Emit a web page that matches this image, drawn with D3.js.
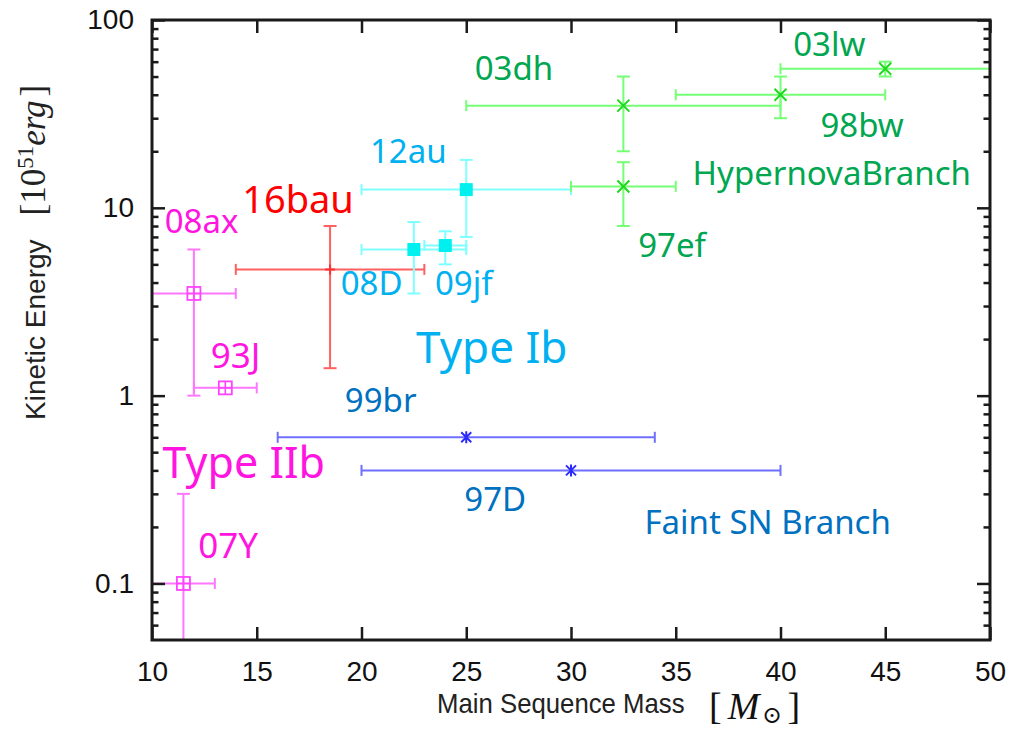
<!DOCTYPE html>
<html><head><meta charset="utf-8">
<script src="https://cdn.jsdelivr.net/npm/d3@7"></script>
<style>
html,body{margin:0;padding:0;background:#fff;}
svg{display:block;}
</style>
</head><body>
<svg id="chart" width="1031" height="734"></svg>
<script>
// ---------- data ----------
const names    = ["08ax","93J","07Y","16bau","12au","08D","09jf","03dh","97ef","98bw","03lw","99br","97D"];
const groups   = ["IIb","IIb","IIb","bau","Ib","Ib","Ib","HN","HN","HN","HN","Faint","Faint"];
const mass     = [12, 13.5, 11.5, 18.5, 25, 22.5, 24, 32.5, 32.5, 40, 45, 25, 30];
const massLo   = [9, 12, 9, 14, 20, 20, 23, 25, 30, 35, 40, 16, 20];
const massHi   = [14, 15, 13, 23, 30, 25, 25, 40, 35, 45, 55, 34, 40];
const energy   = [3.5, 1.1, 0.1, 4.7, 12.5, 6.0, 6.3, 35, 13, 40, 55, 0.6, 0.4];
const energyLo = [1.0, null, 0.01, 1.4, 7.0, 3.5, 5.0, 20, 8, 30, 50, null, null];
const energyHi = [6.0, null, 0.3, 8.0, 18, 8.4, 7.5, 50, 17.5, 50, 60, null, null];

const xTicks = [10, 15, 20, 25, 30, 35, 40, 45, 50];
const yTicks = [0.1, 1, 10, 100];
const yTickLabels = ["0.1", "1", "10", "100"];

// annotation texts anchored in data space (left edge, baseline)
const annText   = ["03dh","03lw","98bw","HypernovaBranch","97ef","12au","16bau","08ax","08D","09jf","Type Ib","93J","99br","Type IIb","97D","Faint SN Branch","07Y"];
const annGroup  = ["HN","HN","HN","HN","HN","Ib","bau","IIb","Ib","Ib","Ib","IIb","Faint","IIb","Faint","Faint","IIb"];
const annMass   = [25.5, 40.7, 42.0, 35.9, 33.3, 20.5, 14.4, 10.7, 19.1, 23.6, 22.7, 12.9, 19.3, 10.6, 25.0, 33.6, 12.3];
const annEnergy = [47.9, 64.4, 23.9, 13.25, 5.49, 17.35, 9.41, 7.36, 3.44, 3.44, 1.50, 1.41, 0.822, 0.366, 0.2445, 0.1823, 0.1358];

// ---------- styles ----------
const style = {
  HN:    {text:"#00a650", err:"#74ff74", mark:"#1fd81f", shape:"cross"},
  Ib:    {text:"#00b0f0", err:"#80ffff", mark:"#00f0f0", shape:"fsquare"},
  bau:   {text:"#ff0000", err:"#ff6060", mark:"#ff3030", shape:"plus"},
  IIb:   {text:"#ff14e0", err:"#ff77ff", mark:"#ff44ff", shape:"osquare"},
  Faint: {text:"#0070c0", err:"#6f6fff", mark:"#2a2aff", shape:"star"}
};
const annSize = {"Type Ib":44, "Type IIb":43, "16bau":38, "07Y":35, "93J":35};

const W = 1031, H = 734;
const margin = {left:152, top:20, right:41, bottom:94};
const pw = W - margin.left - margin.right;   // 838
const ph = H - margin.top - margin.bottom;   // 620

const svg = d3.select("#chart");
const x = d3.scaleLinear().domain([10, 50]).range([margin.left, margin.left + pw]);
const y = d3.scaleLog().domain([0.05, 100]).range([margin.top + ph, margin.top]);

svg.append("defs").append("clipPath").attr("id","clip")
  .append("rect").attr("x", margin.left).attr("y", margin.top).attr("width", pw).attr("height", ph);

const plot = svg.append("g").attr("clip-path","url(#clip)");

// ---------- error bars ----------
const data = names.map((n,i)=>({n, g:groups[i], m:mass[i], ml:massLo[i], mh:massHi[i], e:energy[i], el:energyLo[i], eh:energyHi[i]}));
const cap = 5.5;
const eb = plot.append("g").attr("fill","none").attr("stroke-width",2);
data.forEach(d=>{
  const s = style[d.g];
  const g = eb.append("g").attr("stroke", s.err);
  g.append("line").attr("x1", x(d.ml)).attr("x2", x(d.mh)).attr("y1", y(d.e)).attr("y2", y(d.e));
  g.append("line").attr("x1", x(d.ml)).attr("x2", x(d.ml)).attr("y1", y(d.e)-cap).attr("y2", y(d.e)+cap);
  g.append("line").attr("x1", x(d.mh)).attr("x2", x(d.mh)).attr("y1", y(d.e)-cap).attr("y2", y(d.e)+cap);
  if (d.el != null) {
    g.append("line").attr("x1", x(d.m)).attr("x2", x(d.m)).attr("y1", y(d.el)).attr("y2", y(d.eh));
    g.append("line").attr("x1", x(d.m)-6.5).attr("x2", x(d.m)+6.5).attr("y1", y(d.el)).attr("y2", y(d.el));
    g.append("line").attr("x1", x(d.m)-6.5).attr("x2", x(d.m)+6.5).attr("y1", y(d.eh)).attr("y2", y(d.eh));
  }
});

// ---------- markers ----------
const mk = plot.append("g");
data.forEach(d=>{
  const s = style[d.g];
  const cx = x(d.m), cy = y(d.e);
  const g = mk.append("g").attr("transform", `translate(${cx},${cy})`);
  if (s.shape === "fsquare") {
    g.append("rect").attr("x",-6.5).attr("y",-6.5).attr("width",13).attr("height",13).attr("fill", s.mark);
  } else if (s.shape === "osquare") {
    g.append("rect").attr("x",-6.5).attr("y",-6.5).attr("width",13).attr("height",13)
      .attr("fill","none").attr("stroke", s.mark).attr("stroke-width",1.8);
    g.append("path").attr("d","M-6.5,0H6.5M0,-6.5V6.5").attr("stroke", s.mark).attr("stroke-width",1.6);
  } else if (s.shape === "cross") {
    g.append("path").attr("d","M-6,-6L6,6M-6,6L6,-6").attr("stroke", s.mark).attr("stroke-width",2);
  } else if (s.shape === "plus") {
    g.append("path").attr("d","M-5,0H5M0,-5V5").attr("stroke", s.mark).attr("stroke-width",2);
  } else if (s.shape === "star") {
    g.append("path").attr("d","M-5,-5L5,5M-5,5L5,-5M0,-6V6").attr("stroke", s.mark).attr("stroke-width",2);
  }
});

// ---------- axes ----------
const axisColor = "#1a1a1a";
const minorVals = [];
[0.01, 0.1, 1, 10].forEach(b=>{ for (let k=2;k<=9;k++){ const v=b*k; if (v>0.05 && v<100) minorVals.push(v);} });

function styleAxis(g){
  g.select(".domain").remove();
  g.selectAll(".tick line").attr("stroke", axisColor).attr("stroke-width", 2.5);
  g.selectAll(".tick text").attr("fill","#111").attr("font-family","'Liberation Sans', Arial, sans-serif").attr("font-size", 28);
}

svg.append("g").attr("transform",`translate(${margin.left},0)`)
  .call(d3.axisLeft(y).tickValues(yTicks).tickFormat((d,i)=>yTickLabels[i]).tickSize(-13).tickPadding(18))
  .call(styleAxis);
svg.append("g").attr("transform",`translate(${margin.left},0)`)
  .call(d3.axisLeft(y).tickValues(minorVals).tickFormat("").tickSize(-6.5))
  .call(styleAxis);
svg.append("g").attr("transform",`translate(${margin.left+pw},0)`)
  .call(d3.axisRight(y).tickValues(yTicks).tickFormat("").tickSize(-13))
  .call(styleAxis);
svg.append("g").attr("transform",`translate(${margin.left+pw},0)`)
  .call(d3.axisRight(y).tickValues(minorVals).tickFormat("").tickSize(-6.5))
  .call(styleAxis);
svg.append("g").attr("transform",`translate(0,${margin.top+ph})`)
  .call(d3.axisBottom(x).tickValues(xTicks).tickFormat(d3.format("d")).tickSize(-13).tickPadding(21))
  .call(styleAxis);
svg.append("g").attr("transform",`translate(0,${margin.top})`)
  .call(d3.axisTop(x).tickValues(xTicks).tickFormat("").tickSize(-13))
  .call(styleAxis);

svg.append("rect").attr("x", margin.left).attr("y", margin.top).attr("width", pw).attr("height", ph)
  .attr("fill","none").attr("stroke", axisColor).attr("stroke-width", 3);

// ---------- annotations ----------
const ann = svg.append("g").attr("font-family","'Noto Sans', 'Open Sans', sans-serif");
annText.forEach((t,i)=>{
  const fs = annSize[t] || 33;
  ann.append("text").attr("x", x(annMass[i]) - 2).attr("y", y(annEnergy[i]))
    .attr("font-size", fs).attr("fill", style[annGroup[i]].text).text(t);
});

// ---------- axis titles ----------
svg.append("text").attr("transform","translate(437,713) scale(0.92,1)").attr("fill","#222")
  .attr("font-family","'Liberation Sans', Arial, sans-serif").attr("font-size",28).text("Main Sequence Mass");
const xb = svg.append("text").attr("x", 709).attr("y", 719).attr("fill","#111").attr("font-family","'Liberation Serif', 'DejaVu Serif', serif").attr("font-size",38);
xb.append("tspan").text("[");
xb.append("tspan").attr("dx",6).attr("font-style","italic").text("M");
xb.append("tspan").attr("dx",3).attr("dy",4).attr("font-size",24).attr("font-family","'DejaVu Serif', serif").text("⊙");
xb.append("tspan").attr("dx",5).attr("dy",-4).text("]");

const yt = svg.append("text").attr("transform","translate(45,420) rotate(-90)").attr("fill","#222");
yt.append("tspan").attr("font-family","'Liberation Sans', Arial, sans-serif").attr("font-size",28).text("Kinetic Energy");
yt.append("tspan").attr("dx",24).attr("font-family","'Liberation Serif', serif").attr("font-size",35).text("[10");
yt.append("tspan").attr("dy",-12).attr("font-family","'Liberation Serif', serif").attr("font-size",23).text("51");
yt.append("tspan").attr("dy",12).attr("font-family","'Liberation Serif', serif").attr("font-size",35).attr("font-style","italic").text("erg");
yt.append("tspan").attr("dx",4).attr("font-family","'Liberation Serif', serif").attr("font-size",35).text("]");
</script>
</body></html>
